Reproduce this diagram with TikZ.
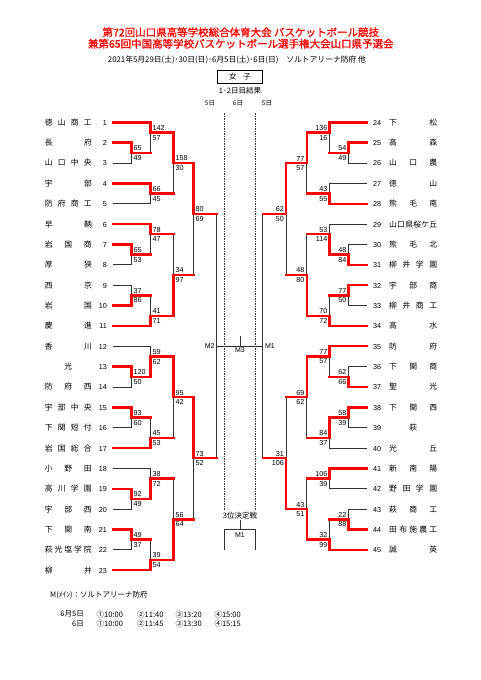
\documentclass[tikz,border=0pt]{standalone}
\usepackage{fontspec}
\setmainfont{Liberation Sans}
\newfontfamily\jp{Noto Sans CJK JP}
\newfontfamily\jpb[FakeBold=1.2]{Noto Sans CJK JP}
\usepackage{tikz}
\usetikzlibrary{positioning}
\definecolor{tred}{RGB}{255,0,0}
\newcommand{\ltm}[2]{\makebox[47pt][s]{\jp\fontsize{7.8}{8}\selectfont #1}\makebox[15pt][r]{#2}}
\newcommand{\rtm}[2]{\makebox[16pt][l]{#1}\makebox[48pt][s]{\jp\fontsize{7.8}{8}\selectfont #2}}
\tikzset{lteam/.style={anchor=east,inner xsep=6pt,inner ysep=0pt,font=\fontsize{7.2}{8}\selectfont},
         rteam/.style={anchor=west,inner xsep=6pt,inner ysep=0pt,font=\fontsize{7.2}{8}\selectfont},
         win/.style={draw=tred,line width=2.4pt,line cap=rect},
         lose/.style={draw=black!80,line width=0.8pt},
         lup/.style={anchor=south west,inner xsep=2pt,inner ysep=1.8pt,font=\fontsize{7.2}{8}\selectfont},
         ldn/.style={anchor=north west,inner xsep=2pt,inner ysep=2.4pt,font=\fontsize{7.2}{8}\selectfont},
         rup/.style={anchor=south east,inner xsep=2pt,inner ysep=1.8pt,font=\fontsize{7.2}{8}\selectfont},
         rdn/.style={anchor=north east,inner xsep=2pt,inner ysep=2.4pt,font=\fontsize{7.2}{8}\selectfont},
         dotline/.style={draw=black!80,line width=0.6pt,dash pattern=on 1.5pt off 1pt},
         ttl/.style={font=\jpb\fontsize{10.5}{12}\selectfont,text=tred,inner sep=0pt},
         small/.style={font=\jp\fontsize{7.5}{9}\selectfont,inner sep=1pt},
         mlab/.style={font=\fontsize{7}{8}\selectfont,inner sep=2pt}}

\begin{document}
\begin{tikzpicture}[x=1pt,y=-1pt]
    \useasboundingbox (0,0) rectangle (481,680);

    % heading
    \node[ttl] (hd1) at (240.8,32.3) {第72回山口県高等学校総合体育大会 バスケットボール競技};
    \node[ttl] (hd2) at (240.8,43.7) {兼第65回中国高等学校バスケットボール選手権大会山口県予選会};
    \node[small,font=\jp\fontsize{7.8}{9}\selectfont] (hd3) at (237,60.3) {2021年5月29日(土)･30日(日)･6月5日(土)･6日(日)\quad ソルトアリーナ防府 他};
    \node[small,draw,line width=0.9pt,minimum width=44.6pt,minimum height=13.3pt] (sex) at (240,76.7) {女\hspace{7pt}子};
    \node[small] (res) at (240,90.7) {1･2日目結果};
    \node[small,font=\jp\fontsize{6.5}{8}\selectfont] (d5l) at (210,103) {5日};
    \node[small,font=\jp\fontsize{6.5}{8}\selectfont] (d6) at (238,103) {6日};
    \node[small,font=\jp\fontsize{6.5}{8}\selectfont] (d5r) at (267,103) {5日};

    \begin{scope}[shift={(0,122.3)},y=-10.18pt]
    % left teams
    \node[lteam] (t1) at (113,0) {\ltm{徳\hfill 山\hfill 商\hfill 工}{1}};
    \node[lteam] (t2) at (113,2) {\ltm{長\hfill 府}{2}};
    \node[lteam] (t3) at (113,4) {\ltm{山\hfill 口\hfill 中\hfill 央}{3}};
    \node[lteam] (t4) at (113,6) {\ltm{宇\hfill 部}{4}};
    \node[lteam] (t5) at (113,8) {\ltm{防\hfill 府\hfill 商\hfill 工}{5}};
    \node[lteam] (t6) at (113,10) {\ltm{早\hfill 鞆}{6}};
    \node[lteam] (t7) at (113,12) {\ltm{岩\hfill 国\hfill 商}{7}};
    \node[lteam] (t8) at (113,14) {\ltm{厚\hfill 狭}{8}};
    \node[lteam] (t9) at (113,16) {\ltm{西\hfill 京}{9}};
    \node[lteam] (t10) at (113,18) {\ltm{岩\hfill 国}{10}};
    \node[lteam] (t11) at (113,20) {\ltm{慶\hfill 進}{11}};
    \node[lteam] (t12) at (113,22) {\ltm{香\hfill 川}{12}};
    \node[lteam] (t13) at (113,24) {\ltm{\hfill 光\hfill}{13}};
    \node[lteam] (t14) at (113,26) {\ltm{防\hfill 府\hfill 西}{14}};
    \node[lteam] (t15) at (113,28) {\ltm{宇\hfill 部\hfill 中\hfill 央}{15}};
    \node[lteam] (t16) at (113,30) {\ltm{下\hfill 関\hfill 短\hfill 付}{16}};
    \node[lteam] (t17) at (113,32) {\ltm{岩\hfill 国\hfill 総\hfill 合}{17}};
    \node[lteam] (t18) at (113,34) {\ltm{小\hfill 野\hfill 田}{18}};
    \node[lteam] (t19) at (113,36) {\ltm{高\hfill 川\hfill 学\hfill 園}{19}};
    \node[lteam] (t20) at (113,38) {\ltm{宇\hfill 部\hfill 西}{20}};
    \node[lteam] (t21) at (113,40) {\ltm{下\hfill 関\hfill 南}{21}};
    \node[lteam] (t22) at (113,42) {\ltm{萩\hfill 光\hfill 塩\hfill 学\hfill 院}{22}};
    \node[lteam] (t23) at (113,44) {\ltm{柳\hfill 井}{23}};

    % right teams
    \node[rteam] (t24) at (367,0) {\rtm{24}{下\hfill 松}};
    \node[rteam] (t25) at (367,2) {\rtm{25}{高\hfill 森}};
    \node[rteam] (t26) at (367,4) {\rtm{26}{山\hfill 口\hfill 農}};
    \node[rteam] (t27) at (367,6) {\rtm{27}{徳\hfill 山}};
    \node[rteam] (t28) at (367,8) {\rtm{28}{熊\hfill 毛\hfill 南}};
    \node[rteam] (t29) at (367,10) {\rtm{29}{山\hfill 口\hfill 県\hfill 桜\hfill ケ\hfill 丘}};
    \node[rteam] (t30) at (367,12) {\rtm{30}{熊\hfill 毛\hfill 北}};
    \node[rteam] (t31) at (367,14) {\rtm{31}{柳\hfill 井\hfill 学\hfill 園}};
    \node[rteam] (t32) at (367,16) {\rtm{32}{宇\hfill 部\hfill 商}};
    \node[rteam] (t33) at (367,18) {\rtm{33}{柳\hfill 井\hfill 商\hfill 工}};
    \node[rteam] (t34) at (367,20) {\rtm{34}{高\hfill 水}};
    \node[rteam] (t35) at (367,22) {\rtm{35}{防\hfill 府}};
    \node[rteam] (t36) at (367,24) {\rtm{36}{下\hfill 関\hfill 商}};
    \node[rteam] (t37) at (367,26) {\rtm{37}{聖\hfill 光}};
    \node[rteam] (t38) at (367,28) {\rtm{38}{下\hfill 関\hfill 西}};
    \node[rteam] (t39) at (367,30) {\rtm{39}{\hfill 萩\hfill}};
    \node[rteam] (t40) at (367,32) {\rtm{40}{光\hfill 丘}};
    \node[rteam] (t41) at (367,34) {\rtm{41}{新\hfill 南\hfill 陽}};
    \node[rteam] (t42) at (367,36) {\rtm{42}{野\hfill 田\hfill 学\hfill 園}};
    \node[rteam] (t43) at (367,38) {\rtm{43}{萩\hfill 商\hfill 工}};
    \node[rteam] (t44) at (367,40) {\rtm{44}{田\hfill 布\hfill 施\hfill 農\hfill 工}};
    \node[rteam] (t45) at (367,42) {\rtm{45}{誠\hfill 英}};

    % left games
    \coordinate (m2x3) at (131.5,3); \node[lup] (m2x3a) at (m2x3) {65}; \node[ldn] (m2x3b) at (m2x3) {49};
    \coordinate (m1x3) at (150.3,1); \node[lup] (m1x3a) at (m1x3) {142}; \node[ldn] (m1x3b) at (m1x3) {57};
    \coordinate (m4x5) at (150.3,7); \node[lup] (m4x5a) at (m4x5) {66}; \node[ldn] (m4x5b) at (m4x5) {45};
    \coordinate (m1x5) at (173.3,4); \node[lup] (m1x5a) at (m1x5) {158}; \node[ldn] (m1x5b) at (m1x5) {30};
    \coordinate (m7x8) at (131.5,13); \node[lup] (m7x8a) at (m7x8) {65}; \node[ldn] (m7x8b) at (m7x8) {53};
    \coordinate (m6x8) at (150.3,11); \node[lup] (m6x8a) at (m6x8) {78}; \node[ldn] (m6x8b) at (m6x8) {47};
    \coordinate (m9x10) at (131.5,17); \node[lup] (m9x10a) at (m9x10) {37}; \node[ldn] (m9x10b) at (m9x10) {86};
    \coordinate (m9x11) at (150.3,19); \node[lup] (m9x11a) at (m9x11) {41}; \node[ldn] (m9x11b) at (m9x11) {71};
    \coordinate (m6x11) at (173.3,15); \node[lup] (m6x11a) at (m6x11) {34}; \node[ldn] (m6x11b) at (m6x11) {97};
    \coordinate (m1x11) at (193.5,9); \node[lup] (m1x11a) at (m1x11) {80}; \node[ldn] (m1x11b) at (m1x11) {69};
    \coordinate (m13x14) at (131.5,25); \node[lup] (m13x14a) at (m13x14) {120}; \node[ldn] (m13x14b) at (m13x14) {50};
    \coordinate (m12x14) at (150.3,23); \node[lup] (m12x14a) at (m12x14) {59}; \node[ldn] (m12x14b) at (m12x14) {62};
    \coordinate (m15x16) at (131.5,29); \node[lup] (m15x16a) at (m15x16) {93}; \node[ldn] (m15x16b) at (m15x16) {60};
    \coordinate (m15x17) at (150.3,31); \node[lup] (m15x17a) at (m15x17) {45}; \node[ldn] (m15x17b) at (m15x17) {53};
    \coordinate (m12x17) at (173.3,27); \node[lup] (m12x17a) at (m12x17) {95}; \node[ldn] (m12x17b) at (m12x17) {42};
    \coordinate (m19x20) at (131.5,37); \node[lup] (m19x20a) at (m19x20) {92}; \node[ldn] (m19x20b) at (m19x20) {49};
    \coordinate (m18x20) at (150.3,35); \node[lup] (m18x20a) at (m18x20) {38}; \node[ldn] (m18x20b) at (m18x20) {72};
    \coordinate (m21x22) at (131.5,41); \node[lup] (m21x22a) at (m21x22) {49}; \node[ldn] (m21x22b) at (m21x22) {37};
    \coordinate (m21x23) at (150.3,43); \node[lup] (m21x23a) at (m21x23) {39}; \node[ldn] (m21x23b) at (m21x23) {54};
    \coordinate (m18x23) at (173.3,39); \node[lup] (m18x23a) at (m18x23) {56}; \node[ldn] (m18x23b) at (m18x23) {64};
    \coordinate (m12x23) at (193.5,33); \node[lup] (m12x23a) at (m12x23) {73}; \node[ldn] (m12x23b) at (m12x23) {52};

    % right games
    \coordinate (m25x26) at (348.5,3); \node[rup] (m25x26a) at (m25x26) {54}; \node[rdn] (m25x26b) at (m25x26) {49};
    \coordinate (m24x26) at (329.5,1); \node[rup] (m24x26a) at (m24x26) {136}; \node[rdn] (m24x26b) at (m24x26) {16};
    \coordinate (m27x28) at (329.5,7); \node[rup] (m27x28a) at (m27x28) {43}; \node[rdn] (m27x28b) at (m27x28) {55};
    \coordinate (m24x28) at (306.7,4); \node[rup] (m24x28a) at (m24x28) {77}; \node[rdn] (m24x28b) at (m24x28) {57};
    \coordinate (m30x31) at (348.5,13); \node[rup] (m30x31a) at (m30x31) {48}; \node[rdn] (m30x31b) at (m30x31) {84};
    \coordinate (m29x31) at (329.5,11); \node[rup] (m29x31a) at (m29x31) {53}; \node[rdn] (m29x31b) at (m29x31) {114};
    \coordinate (m32x33) at (348.5,17); \node[rup] (m32x33a) at (m32x33) {77}; \node[rdn] (m32x33b) at (m32x33) {50};
    \coordinate (m32x34) at (329.5,19); \node[rup] (m32x34a) at (m32x34) {70}; \node[rdn] (m32x34b) at (m32x34) {72};
    \coordinate (m29x34) at (306.7,15); \node[rup] (m29x34a) at (m29x34) {48}; \node[rdn] (m29x34b) at (m29x34) {80};
    \coordinate (m24x34) at (286,9); \node[rup] (m24x34a) at (m24x34) {62}; \node[rdn] (m24x34b) at (m24x34) {50};
    \coordinate (m36x37) at (348.5,25); \node[rup] (m36x37a) at (m36x37) {62}; \node[rdn] (m36x37b) at (m36x37) {66};
    \coordinate (m35x37) at (329.5,23); \node[rup] (m35x37a) at (m35x37) {77}; \node[rdn] (m35x37b) at (m35x37) {57};
    \coordinate (m38x39) at (348.5,29); \node[rup] (m38x39a) at (m38x39) {58}; \node[rdn] (m38x39b) at (m38x39) {39};
    \coordinate (m38x40) at (329.5,31); \node[rup] (m38x40a) at (m38x40) {84}; \node[rdn] (m38x40b) at (m38x40) {37};
    \coordinate (m35x40) at (306.7,27); \node[rup] (m35x40a) at (m35x40) {69}; \node[rdn] (m35x40b) at (m35x40) {62};
    \coordinate (m41x42) at (329.5,35); \node[rup] (m41x42a) at (m41x42) {106}; \node[rdn] (m41x42b) at (m41x42) {39};
    \coordinate (m43x44) at (348.5,39); \node[rup] (m43x44a) at (m43x44) {22}; \node[rdn] (m43x44b) at (m43x44) {88};
    \coordinate (m43x45) at (329.5,41); \node[rup] (m43x45a) at (m43x45) {32}; \node[rdn] (m43x45b) at (m43x45) {99};
    \coordinate (m41x45) at (306.7,38); \node[rup] (m41x45a) at (m41x45) {43}; \node[rdn] (m41x45b) at (m41x45) {51};
    \coordinate (m35x45) at (286,33); \node[rup] (m35x45a) at (m35x45) {31}; \node[rdn] (m35x45b) at (m35x45) {106};

    % semifinals, final, 3rd place
    \coordinate (M2) at (216.8,22);
    \coordinate (M1) at (262.8,22);
    \coordinate (M3) at (240,22);
    \node[mlab,anchor=east] (M2lab) at (M2) {M2};
    \node[mlab,anchor=west] (M1lab) at (M1) {M1};
    \node[mlab,anchor=north,inner sep=1.5pt] (M3lab) at (M3) {M3};
    \node[small] (third) at (240,38.6) {3位決定戦};
    \coordinate (tp) at (240,40);
    \coordinate (thl) at (224.3,42);
    \coordinate (thr) at (255.7,42);
    \node[mlab,anchor=north,inner sep=2.5pt] (thm) at (tp) {M1};
    \coordinate (dl) at (224.3,-0.9);
    \coordinate (dr) at (255.7,-0.9);

    % lost
    \draw [lose] (t3.east) -| (m2x3);
    \draw [lose] (m2x3 -| m1x3) -- (m1x3);
    \draw [lose] (t5.east) -| (m4x5);
    \draw [lose] (m4x5 -| m1x5) -- (m1x5);
    \draw [lose] (t8.east) -| (m7x8);
    \draw [lose] (m7x8 -| m6x8) -- (m6x8);
    \draw [lose] (t9.east) -| (m9x10);
    \draw [lose] (m9x10 -| m9x11) -- (m9x11);
    \draw [lose] (m6x8 -| m6x11) -- (m6x11);
    \draw [lose] (m6x11 -| m1x11) -- (m1x11);
    \draw [lose] (t14.east) -| (m13x14);
    \draw [lose] (t12.east) -| (m12x14);
    \draw [lose] (t16.east) -| (m15x16);
    \draw [lose] (m15x16 -| m15x17) -- (m15x17);
    \draw [lose] (m15x17 -| m12x17) -- (m12x17);
    \draw [lose] (t20.east) -| (m19x20);
    \draw [lose] (t18.east) -| (m18x20);
    \draw [lose] (t22.east) -| (m21x22);
    \draw [lose] (m21x22 -| m21x23) -- (m21x23);
    \draw [lose] (m18x20 -| m18x23) -- (m18x23);
    \draw [lose] (m18x23 -| m12x23) -- (m12x23);
    \draw [lose] (t26.west) -| (m25x26);
    \draw [lose] (m25x26 -| m24x26) -- (m24x26);
    \draw [lose] (t27.west) -| (m27x28);
    \draw [lose] (m27x28 -| m24x28) -- (m24x28);
    \draw [lose] (t30.west) -| (m30x31);
    \draw [lose] (t29.west) -| (m29x31);
    \draw [lose] (t33.west) -| (m32x33);
    \draw [lose] (m32x33 -| m32x34) -- (m32x34);
    \draw [lose] (m29x31 -| m29x34) -- (m29x34);
    \draw [lose] (m29x34 -| m24x34) -- (m24x34);
    \draw [lose] (t36.west) -| (m36x37);
    \draw [lose] (m36x37 -| m35x37) -- (m35x37);
    \draw [lose] (t39.west) -| (m38x39);
    \draw [lose] (t40.west) -| (m38x40);
    \draw [lose] (m38x40 -| m35x40) -- (m35x40);
    \draw [lose] (t42.west) -| (m41x42);
    \draw [lose] (t43.west) -| (m43x44);
    \draw [lose] (m43x44 -| m43x45) -- (m43x45);
    \draw [lose] (m41x42 -| m41x45) -- (m41x45);
    \draw [lose] (m35x40 -| m35x45) -- (m35x45);
    \draw [lose] (m1x11 -| M2) -- (m12x23 -| M2);
    \draw [lose] (m24x34 -| M1) -- (m35x45 -| M1);
    \draw [lose] (M2) -- (M1);
    \draw [lose] (M3) -- ++(0,-1);
    \draw [dotline] (dl) -- (dl |- third.north);
    \draw [dotline] (dr) -- (dr |- third.north);
    \draw [lose] (third) -- (tp);
    \draw [lose] (thl) |- (tp) -| (thr);

    % won
    \draw [win] (t2.east) -| (m2x3);
    \draw [win] (m2x3) -- (m2x3 -| m1x3);
    \draw [win] (t1.east) -| (m1x3);
    \draw [win] (t4.east) -| (m4x5);
    \draw [win] (m1x3) -| (m1x5);
    \draw [win] (m4x5) -- (m4x5 -| m1x5);
    \draw [win] (t7.east) -| (m7x8);
    \draw [win] (m7x8) -- (m7x8 -| m6x8);
    \draw [win] (t6.east) -| (m6x8);
    \draw [win] (t10.east) -| (m9x10);
    \draw [win] (m9x10) -- (m9x10 -| m9x11);
    \draw [win] (t11.east) -| (m9x11);
    \draw [win] (m6x8) -- (m6x8 -| m6x11);
    \draw [win] (m9x11) -| (m6x11);
    \draw [win] (m1x5) -| (m1x11);
    \draw [win] (m6x11) -- (m6x11 -| m1x11);
    \draw [win] (m1x11) -- (m1x11 -| M2);
    \draw [win] (t13.east) -| (m13x14);
    \draw [win] (m13x14) -| (m12x14);
    \draw [win] (t15.east) -| (m15x16);
    \draw [win] (m15x16) -- (m15x16 -| m15x17);
    \draw [win] (t17.east) -| (m15x17);
    \draw [win] (m12x14) -| (m12x17);
    \draw [win] (m15x17) -- (m15x17 -| m12x17);
    \draw [win] (t19.east) -| (m19x20);
    \draw [win] (m19x20) -| (m18x20);
    \draw [win] (t21.east) -| (m21x22);
    \draw [win] (m21x22) -- (m21x22 -| m21x23);
    \draw [win] (t23.east) -| (m21x23);
    \draw [win] (m18x20) -- (m18x20 -| m18x23);
    \draw [win] (m21x23) -| (m18x23);
    \draw [win] (m12x17) -| (m12x23);
    \draw [win] (m18x23) -- (m18x23 -| m12x23);
    \draw [win] (m12x23) -- (m12x23 -| M2);
    \draw [win] (t25.west) -| (m25x26);
    \draw [win] (m25x26) -- (m25x26 -| m24x26);
    \draw [win] (t24.west) -| (m24x26);
    \draw [win] (t28.west) -| (m27x28);
    \draw [win] (m24x26) -| (m24x28);
    \draw [win] (m27x28) -- (m27x28 -| m24x28);
    \draw [win] (t31.west) -| (m30x31);
    \draw [win] (m30x31) -| (m29x31);
    \draw [win] (t32.west) -| (m32x33);
    \draw [win] (m32x33) -- (m32x33 -| m32x34);
    \draw [win] (t34.west) -| (m32x34);
    \draw [win] (m29x31) -- (m29x31 -| m29x34);
    \draw [win] (m32x34) -| (m29x34);
    \draw [win] (m24x28) -| (m24x34);
    \draw [win] (m29x34) -- (m29x34 -| m24x34);
    \draw [win] (m24x34) -- (m24x34 -| M1);
    \draw [win] (t37.west) -| (m36x37);
    \draw [win] (m36x37) -- (m36x37 -| m35x37);
    \draw [win] (t35.west) -| (m35x37);
    \draw [win] (t38.west) -| (m38x39);
    \draw [win] (m38x39) -| (m38x40);
    \draw [win] (m35x37) -| (m35x40);
    \draw [win] (m38x40) -- (m38x40 -| m35x40);
    \draw [win] (t41.west) -| (m41x42);
    \draw [win] (t44.west) -| (m43x44);
    \draw [win] (m43x44) -- (m43x44 -| m43x45);
    \draw [win] (t45.west) -| (m43x45);
    \draw [win] (m41x42) -- (m41x42 -| m41x45);
    \draw [win] (m43x45) -| (m41x45);
    \draw [win] (m35x40) -- (m35x40 -| m35x45);
    \draw [win] (m41x45) -| (m35x45);
    \draw [win] (m35x45) -- (m35x45 -| M1);
    \end{scope}

    % venue and times
    \node[small,anchor=west] (venue) at (49,595) {M(ﾒｲﾝ)：ソルトアリーナ防府};
    \node[small,anchor=east] (day5) at (85,614.3) {6月5日};
    \node[small,anchor=west] (g5a) at (95.5,614.3) {①10:00};
    \node[small,anchor=west] (g5b) at (136,614.3) {②11:40};
    \node[small,anchor=west] (g5c) at (174.3,614.3) {③13:20};
    \node[small,anchor=west] (g5d) at (213.3,614.3) {④15:00};
    \node[small,anchor=east] (day6) at (85,624) {6日};
    \node[small,anchor=west] (g6a) at (95.5,624) {①10:00};
    \node[small,anchor=west] (g6b) at (136,624) {②11:45};
    \node[small,anchor=west] (g6c) at (174.3,624) {③13:30};
    \node[small,anchor=west] (g6d) at (213.3,624) {④15:15};
\end{tikzpicture}
\end{document}
